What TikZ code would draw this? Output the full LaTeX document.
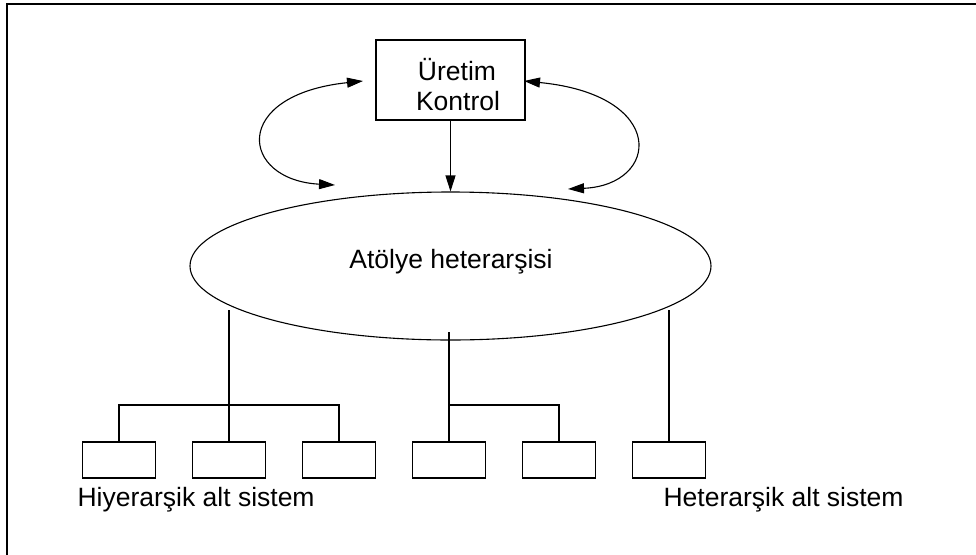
\documentclass[tikz,border=0pt]{standalone}
\usepackage{fontspec}
\setmainfont{Liberation Sans}
\usetikzlibrary{shapes.geometric,arrows.meta}
\tikzset{
  every picture/.style={line width=1.1pt},
  lbl/.style={font=\fontsize{26.5}{29}\selectfont, inner sep=0pt, anchor=base},
  ctrlbox/.style={draw, minimum width=149pt, minimum height=80pt, inner sep=0pt},
  shopell/.style={draw, ellipse, minimum width=521pt, minimum height=148pt, inner sep=0pt},
  subbox/.style={draw, minimum width=73pt, minimum height=36pt, inner sep=0pt},
  tip/.style={-{Triangle[length=16pt,width=10pt]}},
  bothtips/.style={{Triangle[length=16pt,width=10pt]}-{Triangle[length=16pt,width=10pt]}},
}
\begin{document}
\begin{tikzpicture}[x=1pt,y=-1pt]
\useasboundingbox (0,0) rectangle (976,554);
\begin{scope}
\clip (0,0) rectangle (976,554);
% outer frame (only top and left edges fall on the page)
\draw[line width=2pt] (7,560) -- (7,4) -- (990,4);
\end{scope}

% production control box
\node[ctrlbox] (ctrl) at (450.5,80) {};
\node[lbl] (ctrlA) at (457,80) {Üretim};
\node[lbl] (ctrlB) at (458,110) {Kontrol};

% workshop heterarchy
\node[shopell] (shop) at (450.5,266) {};
\node[lbl] (shoptxt) at (451,268) {Atölye heterarşisi};

% control arrows
\draw[tip] (ctrl.south) -- (shop.north);
\coordinate (la) at (363,81);
\coordinate (lb) at (335,185);
\coordinate (ra) at (524,81);
\coordinate (rb) at (568,189);
\draw[bothtips] (la) .. controls (230,95) and (240,180) .. (lb);
\draw[bothtips] (ra) .. controls (668,95) and (660,185) .. (rb);

% subsystem boxes
\node[subbox] (b1) at (119,460) {};
\node[subbox] (b2) at (229,460) {};
\node[subbox] (b3) at (339,460) {};
\node[subbox] (b4) at (449,460) {};
\node[subbox] (b5) at (559,460) {};
\node[subbox] (b6) at (669,460) {};

% links from the heterarchy to the subsystems
\coordinate (s1) at (229,310);
\coordinate (s2) at (449,332);
\coordinate (s3) at (669,310);
\coordinate (barL) at (229,405);
\coordinate (barR) at (449,405);
\draw (s1) -- (b2.north);
\draw (b1.north) |- (barL) -| (b3.north);
\draw (s2) -- (b4.north);
\draw (barR) -| (b5.north);
\draw (s3) -- (b6.north);

% captions
\node[lbl, anchor=base west] (capL) at (77,506) {Hiyerarşik alt sistem};
\node[lbl, anchor=base west] (capR) at (663,506) {Heterarşik alt sistem};
\end{tikzpicture}
\end{document}
